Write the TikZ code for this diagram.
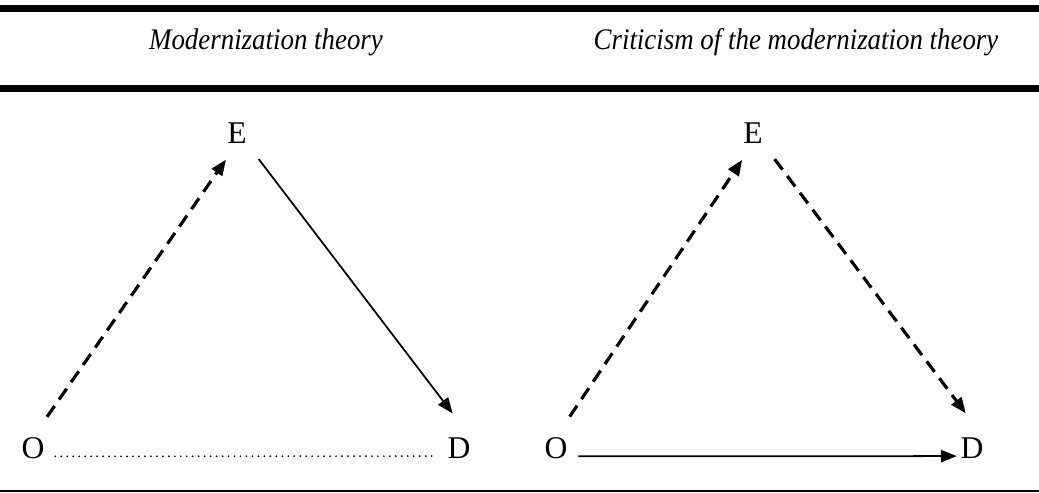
\documentclass[tikz,border=0pt]{standalone}
\usepackage{fontspec}
\setmainfont{Liberation Serif}
\newfontfamily\headfont[FakeStretch=0.9]{Liberation Serif}
\usetikzlibrary{arrows.meta, positioning}

\begin{document}
\begin{tikzpicture}[x=0.02cm, y=-0.02cm]
    \tikzset{
        letter/.style={font=\fontsize{18}{20}\selectfont, inner sep=0pt},
        heading/.style={font=\headfont\itshape\fontsize{17}{20}\selectfont, inner sep=0pt},
        rulethick/.style={line width=4pt},
        rulethin/.style={line width=1.1pt},
        dasharrow/.style={-{Triangle[length=9pt, width=7pt]}, line width=1.8pt, dash pattern=on 7.5pt off 4.5pt},
        solidarrow/.style={-{Triangle[length=9pt, width=7pt]}, line width=1pt},
        dotline/.style={line width=1.1pt, dash pattern=on 0pt off 3.4pt, line cap=round}
    }
    \useasboundingbox (0,0) rectangle (1039,493);

    % table rules
    \draw[rulethick] (0,8.5) -- (1039,8.5);
    \draw[rulethick] (0,88.5) -- (1039,88.5);
    \draw[rulethin] (0,491) -- (1039,491);

    \node[heading] (HeadLeft) at (266,42) {Modernization theory};
    \node[heading] (HeadRight) at (796,42) {Criticism of the modernization theory};

    % left triangle
    \node[letter] (E1) at (237,133) {E};
    \node[letter] (O1) at (33,448) {O};
    \node[letter] (D1) at (459,448) {D};

    \draw[dasharrow, shorten <=14pt, shorten >=11pt] (O1.north) -- (E1.south);
    \draw[solidarrow, shorten <=11pt, shorten >=17pt] (E1.south east) -- (D1.north east);
    \draw[dotline, shorten <=6pt, shorten >=7pt] ([yshift=1.5pt]O1.south east) -- ([yshift=1.5pt]D1.south west);

    % right triangle
    \node[letter] (E2) at (753,133) {E};
    \node[letter] (O2) at (556,448) {O};
    \node[letter] (D2) at (972,448) {D};

    \draw[dasharrow, shorten <=14pt, shorten >=11pt] (O2.north) -- (E2.south);
    \draw[dasharrow, shorten <=11pt, shorten >=17pt] (E2.south east) -- (D2.north east);
    \draw[solidarrow, shorten <=6pt, shorten >=2pt] ([yshift=1.5pt]O2.south east) -- ([yshift=1.5pt]D2.south west);
\end{tikzpicture}
\end{document}
